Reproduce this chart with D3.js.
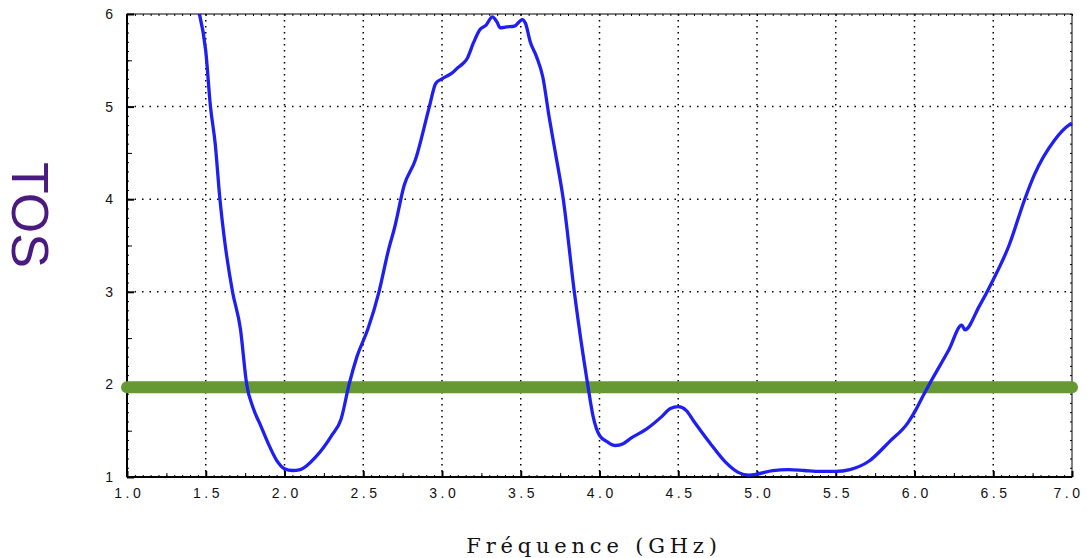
<!DOCTYPE html>
<html>
<head>
<meta charset="utf-8">
<script src="https://cdn.jsdelivr.net/npm/d3@7"></script>
<style>
  body { margin: 0; background: #fff; }
</style>
</head>
<body>
<div id="chart"></div>
<script>
// chart size
const width = 1087
const height = 558

// data
const freq = [1.46, 1.50, 1.53, 1.56, 1.59, 1.62, 1.67, 1.72, 1.76, 1.80, 1.85, 1.90, 1.95, 2.00, 2.05, 2.10,
  2.20, 2.30, 2.36, 2.41, 2.46, 2.53, 2.60, 2.66, 2.70, 2.76, 2.83, 2.92, 2.96, 3.00, 3.07, 3.10, 3.13, 3.16,
  3.20, 3.24, 3.28, 3.32, 3.35, 3.37, 3.41, 3.46, 3.51, 3.53, 3.56, 3.60, 3.64, 3.68, 3.72, 3.77, 3.84, 3.925,
  3.96, 4.00, 4.05, 4.10, 4.15, 4.20, 4.30, 4.40, 4.45, 4.50, 4.55, 4.60, 4.70, 4.80, 4.88, 4.95, 5.00, 5.10,
  5.20, 5.30, 5.40, 5.50, 5.59, 5.71, 5.84, 5.96, 6.01, 6.04, 6.11, 6.22, 6.30, 6.32, 6.41, 6.50, 6.60, 6.70,
  6.76, 6.89, 6.98, 7.00]
const tos = [6.0, 5.6, 5.0, 4.6, 4.0, 3.55, 3.0, 2.6, 2.0, 1.75, 1.55, 1.35, 1.18, 1.09, 1.07, 1.08,
  1.22, 1.45, 1.63, 2.0, 2.3, 2.6, 3.0, 3.45, 3.7, 4.15, 4.42, 5.0, 5.25, 5.3, 5.37, 5.42, 5.46, 5.52,
  5.69, 5.83, 5.88, 5.97, 5.91, 5.85, 5.86, 5.87, 5.94, 5.90, 5.70, 5.54, 5.32, 4.89, 4.5, 4.0, 3.0, 2.0,
  1.65, 1.45, 1.38, 1.34, 1.36, 1.42, 1.52, 1.66, 1.74, 1.76, 1.72, 1.6, 1.37, 1.16, 1.05, 1.02, 1.03, 1.07,
  1.08, 1.07, 1.06, 1.06, 1.08, 1.17, 1.38, 1.59, 1.73, 1.83, 2.05, 2.38, 2.64, 2.59, 2.84, 3.13, 3.5, 4.0,
  4.26, 4.64, 4.8, 4.82]
const threshold = 1.97
const xTicks = [1.0, 1.5, 2.0, 2.5, 3.0, 3.5, 4.0, 4.5, 5.0, 5.5, 6.0, 6.5, 7.0]
const yTicks = [1, 2, 3, 4, 5, 6]

const data = freq.map((f, i) => ({ f: f, v: tos[i] }))

// plot area
const pLeft = 127, pRight = 1072, pTop = 14, pBottom = 477

const x = d3.scaleLinear().domain([1, 7]).range([pLeft, pRight])
const y = d3.scaleLinear().domain([1, 6]).range([pBottom, pTop])

const svg = d3.select("#chart")
  .append("svg")
  .attr("width", width)
  .attr("height", height)

// dotted grid
svg.append("g")
  .selectAll("line")
  .data(xTicks.slice(1, -1))
  .enter()
  .append("line")
  .attr("x1", d => x(d)).attr("x2", d => x(d))
  .attr("y1", pTop).attr("y2", pBottom)
  .attr("stroke", "#000")
  .attr("stroke-width", 1.5)
  .attr("stroke-dasharray", "1.5,4.5")

svg.append("g")
  .selectAll("line")
  .data(yTicks.slice(1, -1))
  .enter()
  .append("line")
  .attr("x1", pLeft).attr("x2", pRight)
  .attr("y1", d => y(d)).attr("y2", d => y(d))
  .attr("stroke", "#000")
  .attr("stroke-width", 1.5)
  .attr("stroke-dasharray", "1.5,6")

// small ticks along the frame
const fineX = d3.range(1, 7.001, 0.05)
const fineY = d3.range(1, 6.001, 0.1)

svg.append("g").call(d3.axisBottom(x).tickValues(fineX).tickSize(-2).tickFormat(""))
  .attr("transform", `translate(0,${pBottom})`)
  .call(g => g.select(".domain").remove())
svg.append("g").call(d3.axisTop(x).tickValues(fineX).tickSize(-2).tickFormat(""))
  .attr("transform", `translate(0,${pTop})`)
  .call(g => g.select(".domain").remove())
svg.append("g").call(d3.axisLeft(y).tickValues(fineY).tickSize(-2).tickFormat(""))
  .attr("transform", `translate(${pLeft},0)`)
  .call(g => g.select(".domain").remove())
svg.append("g").call(d3.axisRight(y).tickValues(fineY).tickSize(-2).tickFormat(""))
  .attr("transform", `translate(${pRight},0)`)
  .call(g => g.select(".domain").remove())

// minor ticks
svg.append("g").call(d3.axisBottom(x).tickValues(d3.range(1.25, 7, 0.5)).tickSize(-4).tickFormat(""))
  .attr("transform", `translate(0,${pBottom})`)
  .call(g => g.select(".domain").remove())
svg.append("g").call(d3.axisLeft(y).tickValues(d3.range(1.5, 6, 1)).tickSize(-5).tickFormat(""))
  .attr("transform", `translate(${pLeft},0)`)
  .call(g => g.select(".domain").remove())

// frame
svg.append("rect")
  .attr("x", pLeft).attr("y", pTop)
  .attr("width", pRight - pLeft).attr("height", pBottom - pTop)
  .attr("fill", "none")
  .attr("stroke", "#000")
  .attr("stroke-width", 1)

// bottom axis
svg.append("g")
  .attr("transform", `translate(0,${pBottom})`)
  .call(d3.axisBottom(x).tickValues(xTicks).tickSize(-6).tickPadding(11).tickFormat(d3.format(".1f")))
  .call(g => g.select(".domain").attr("stroke-width", 2).attr("d", `M${pLeft},0H${pRight}`))
  .call(g => g.selectAll(".tick line").attr("stroke-width", 2))
  .call(g => g.selectAll("text")
    .attr("font-family", "Arial, 'Liberation Sans', sans-serif")
    .attr("font-size", "14px")
    .attr("letter-spacing", "3.5px")
    .attr("dx", (d, i) => i === xTicks.length - 1 ? "-4px" : "1.75px")
    .attr("fill", "#111"))

// left axis
svg.append("g")
  .attr("transform", `translate(${pLeft},0)`)
  .call(d3.axisLeft(y).tickValues(yTicks).tickSize(-7).tickPadding(14).tickFormat(d3.format("d")))
  .call(g => g.select(".domain").attr("stroke-width", 2).attr("d", `M0,${pTop}V${pBottom}`))
  .call(g => g.selectAll(".tick line").attr("stroke-width", 2))
  .call(g => g.selectAll("text")
    .attr("font-family", "Arial, 'Liberation Sans', sans-serif")
    .attr("font-size", "14px")
    .attr("fill", "#111"))

// threshold line (TOS = 2)
svg.append("line")
  .attr("x1", x(1)).attr("x2", x(7))
  .attr("y1", y(threshold)).attr("y2", y(threshold))
  .attr("stroke", "#669933")
  .attr("stroke-width", 12)
  .attr("stroke-linecap", "round")

// measured curve
const line = d3.line()
  .x(d => x(d.f))
  .y(d => y(d.v))
  .curve(d3.curveMonotoneX)

svg.append("path")
  .datum(data)
  .attr("d", line)
  .attr("fill", "none")
  .attr("stroke", "#1f1ff2")
  .attr("stroke-width", 3.3)
  .attr("stroke-linejoin", "round")

// axis titles
svg.append("text")
  .attr("transform", "translate(12,215) rotate(90)")
  .attr("text-anchor", "middle")
  .attr("font-family", "Arial, 'Liberation Sans', sans-serif")
  .attr("font-size", "52px")
  .attr("fill", "#4b1a80")
  .text("TOS")

svg.append("text")
  .attr("x", 594)
  .attr("y", 553)
  .attr("text-anchor", "middle")
  .attr("font-family", "'DejaVu Serif', 'Liberation Serif', serif")
  .attr("font-size", "21px")
  .attr("letter-spacing", "4.8px")
  .attr("fill", "#111")
  .text("Fréquence (GHz)")
</script>
</body>
</html>
